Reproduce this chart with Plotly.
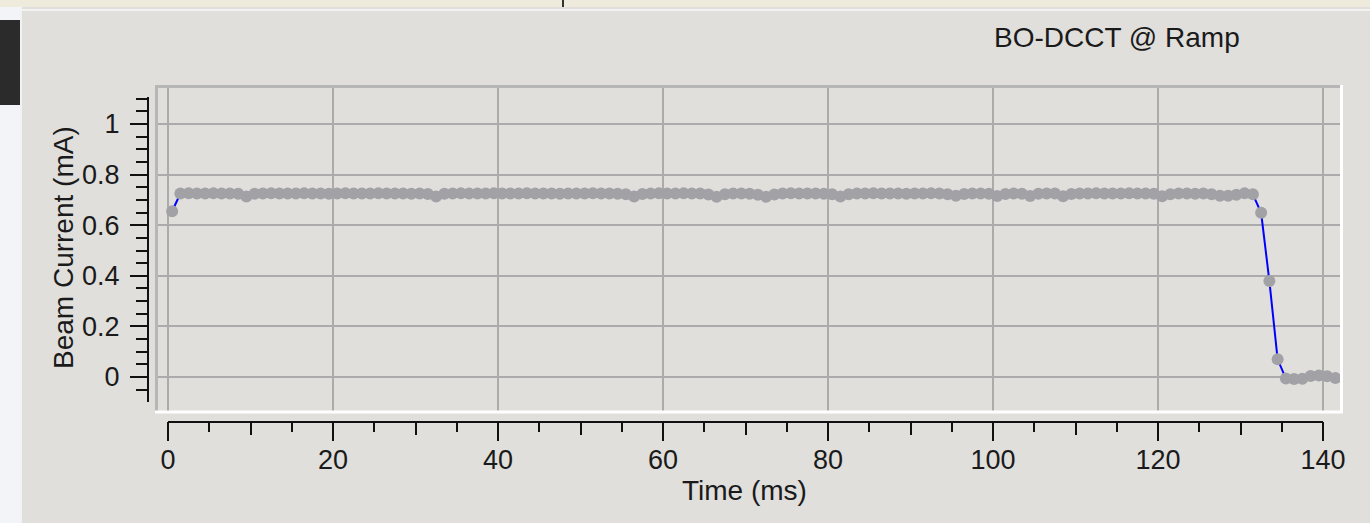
import plotly.graph_objects as go

# ---------------- data ----------------
time_ms = [
    0.5, 1.5, 2.5, 3.5, 4.5, 5.5, 6.5, 7.5, 8.5, 9.5,
    10.5, 11.5, 12.5, 13.5, 14.5, 15.5, 16.5, 17.5, 18.5, 19.5,
    20.5, 21.5, 22.5, 23.5, 24.5, 25.5, 26.5, 27.5, 28.5, 29.5,
    30.5, 31.5, 32.5, 33.5, 34.5, 35.5, 36.5, 37.5, 38.5, 39.5,
    40.5, 41.5, 42.5, 43.5, 44.5, 45.5, 46.5, 47.5, 48.5, 49.5,
    50.5, 51.5, 52.5, 53.5, 54.5, 55.5, 56.5, 57.5, 58.5, 59.5,
    60.5, 61.5, 62.5, 63.5, 64.5, 65.5, 66.5, 67.5, 68.5, 69.5,
    70.5, 71.5, 72.5, 73.5, 74.5, 75.5, 76.5, 77.5, 78.5, 79.5,
    80.5, 81.5, 82.5, 83.5, 84.5, 85.5, 86.5, 87.5, 88.5, 89.5,
    90.5, 91.5, 92.5, 93.5, 94.5, 95.5, 96.5, 97.5, 98.5, 99.5,
    100.5, 101.5, 102.5, 103.5, 104.5, 105.5, 106.5, 107.5, 108.5, 109.5,
    110.5, 111.5, 112.5, 113.5, 114.5, 115.5, 116.5, 117.5, 118.5, 119.5,
    120.5, 121.5, 122.5, 123.5, 124.5, 125.5, 126.5, 127.5, 128.5, 129.5,
    130.5, 131.5, 132.5, 133.5, 134.5, 135.5, 136.5, 137.5, 138.5, 139.5,
    140.5, 141.5,
]
beam_current_mA = [
    0.655, 0.725, 0.726, 0.725, 0.725, 0.726, 0.725, 0.725, 0.724, 0.713,
    0.724, 0.725, 0.726, 0.725, 0.725, 0.725, 0.726, 0.725, 0.725, 0.724,
    0.725, 0.726, 0.725, 0.725, 0.725, 0.726, 0.725, 0.725, 0.725, 0.724,
    0.725, 0.723, 0.713, 0.724, 0.725, 0.726, 0.725, 0.725, 0.725, 0.726,
    0.725, 0.725, 0.725, 0.726, 0.725, 0.725, 0.725, 0.724, 0.725, 0.725,
    0.725, 0.726, 0.725, 0.725, 0.724, 0.722, 0.713, 0.723, 0.725, 0.726,
    0.725, 0.725, 0.726, 0.725, 0.725, 0.721, 0.712, 0.722, 0.725, 0.725,
    0.724, 0.720, 0.712, 0.721, 0.725, 0.726, 0.725, 0.725, 0.725, 0.724,
    0.722, 0.713, 0.722, 0.725, 0.725, 0.726, 0.725, 0.725, 0.725, 0.724,
    0.725, 0.725, 0.726, 0.725, 0.722, 0.716, 0.723, 0.725, 0.725, 0.724,
    0.715, 0.723, 0.725, 0.724, 0.715, 0.724, 0.725, 0.725, 0.714, 0.723,
    0.725, 0.725, 0.726, 0.725, 0.725, 0.725, 0.726, 0.725, 0.725, 0.724,
    0.714, 0.722, 0.725, 0.725, 0.724, 0.725, 0.722, 0.716, 0.716, 0.720,
    0.726, 0.722, 0.649, 0.379, 0.070, -0.006, -0.008, -0.007, 0.004, 0.006,
    0.003, -0.004,
]
x_tick_values = [0, 20, 40, 60, 80, 100, 120, 140]
x_tick_labels = ["0", "20", "40", "60", "80", "100", "120", "140"]
y_tick_values = [0, 0.2, 0.4, 0.6, 0.8, 1.0]
y_tick_labels = ["0", "0.2", "0.4", "0.6", "0.8", "1"]

chart_title = "BO-DCCT @ Ramp"
x_title = "Time (ms)"
y_title = "Beam Current (mA)"

# ---------------- layout geometry (pixels) ----------------
W, H = 1370, 523
def PX(px):
    return px / W
def PY(py):
    return 1 - py / H

# plot frame (inner area)
fx0, fx1, fy0, fy1 = 158, 1340, 88, 411
# axis calibration: x 0 -> 168px, 140 -> 1323px ; y 0 -> 377px, 1 -> 124px
x0_px, x140_px = 168, 1323
xs = (x140_px - x0_px) / 140.0
y0_px, y1_px = 377, 124
ys = (y0_px - y1_px) / 1.0

x_range_data = [(fx0 - x0_px) / xs, (fx1 - x0_px) / xs]
y_range_data = [(y0_px - fy1) / ys, (y0_px - fy0) / ys]

# y tick axis extent
ya_top, ya_bot = 97, 402
y_range_axis = [(y0_px - ya_bot) / ys, (y0_px - ya_top) / ys]
# axis line positions
xaxis_line_py = 421
yaxis_line_px = 149

PANEL = "#e0dfdc"
GRID = "#ababab"
TXT = "#1a1a1a"
AX = "#111111"
FONT = "Liberation Sans, Arial, sans-serif"
FS_TICK = 27
FS_TITLE = 28

fig = go.Figure()

fig.add_trace(go.Scatter(
    x=time_ms, y=beam_current_mA, mode="lines+markers",
    line=dict(color="#0000ff", width=2),
    marker=dict(color="#a2a2a6", size=12, line=dict(width=0)),
    xaxis="x", yaxis="y", showlegend=False, hoverinfo="x+y",
))
# empty traces so that the tick-only axes get their own subplots
fig.add_trace(go.Scatter(x=[], y=[], xaxis="x2", yaxis="y3", showlegend=False, hoverinfo="skip"))
fig.add_trace(go.Scatter(x=[], y=[], xaxis="x4", yaxis="y3", showlegend=False, hoverinfo="skip"))
fig.add_trace(go.Scatter(x=[], y=[], xaxis="x3", yaxis="y2", showlegend=False, hoverinfo="skip"))

hidden = dict(showgrid=False, zeroline=False, showline=False, ticks="",
              showticklabels=False, fixedrange=True)

fig.update_layout(
    width=W, height=H, autosize=False,
    margin=dict(l=0, r=0, t=0, b=0, pad=0, autoexpand=False),
    paper_bgcolor=PANEL, plot_bgcolor="rgba(0,0,0,0)",
    font=dict(family=FONT, size=FS_TICK, color=TXT),
    showlegend=False,
    xaxis=dict(
        domain=[PX(fx0), PX(fx1)], range=x_range_data, anchor="y",
        showgrid=True, gridcolor=GRID, gridwidth=2,
        tickvals=x_tick_values, showticklabels=False, ticks="",
        showline=False, zeroline=False, automargin=False,
    ),
    yaxis=dict(
        domain=[PY(fy1), PY(fy0)], range=y_range_data, anchor="x",
        showgrid=True, gridcolor=GRID, gridwidth=2,
        tickvals=y_tick_values, showticklabels=False, ticks="",
        showline=False, zeroline=False, automargin=False,
    ),
    # x tick axis (major + short minor)
    xaxis2=dict(
        domain=[PX(x0_px), PX(x140_px)], range=[0, 140],
        anchor="y3", side="bottom", automargin=False,
        showgrid=False, zeroline=False,
        showline=True, linecolor=AX, linewidth=2,
        tickvals=x_tick_values, ticktext=x_tick_labels,
        ticks="outside", ticklen=18, tickwidth=2, tickcolor=AX,
        ticklabelstandoff=-4,
        tickfont=dict(family=FONT, size=FS_TICK, color=TXT),
        minor=dict(dtick=5, tick0=0, ticks="outside", ticklen=9,
                   tickwidth=2, tickcolor=AX, showgrid=False),
    ),
    # x medium ticks every 10
    xaxis4=dict(
        domain=[PX(x0_px), PX(x140_px)], range=[0, 140],
        anchor="y3", side="bottom", automargin=False,
        showgrid=False, zeroline=False, showline=False,
        dtick=10, tick0=0, ticks="outside", ticklen=13, tickwidth=2,
        tickcolor=AX, showticklabels=False,
    ),
    # helper y axis whose domain bottom defines the x tick axis position
    yaxis3=dict(domain=[PY(xaxis_line_py), PY(xaxis_line_py - 10)], range=[0, 1],
                anchor="x2", automargin=False, **hidden),
    # y tick axis
    yaxis2=dict(
        domain=[PY(ya_bot), PY(ya_top)], range=y_range_axis,
        anchor="x3", side="left", automargin=False,
        showgrid=False, zeroline=False,
        showline=True, linecolor=AX, linewidth=2,
        tickvals=y_tick_values, ticktext=y_tick_labels,
        ticks="outside", ticklen=17, tickwidth=2, tickcolor=AX,
        ticklabelstandoff=5,
        tickfont=dict(family=FONT, size=FS_TICK, color=TXT),
        minor=dict(dtick=0.05, tick0=0, ticks="outside", ticklen=11,
                   tickwidth=2, tickcolor=AX, showgrid=False),
    ),
    # helper x axis whose domain left defines the y tick axis position
    xaxis3=dict(domain=[PX(yaxis_line_px), PX(yaxis_line_px + 5)], range=[0, 1],
                anchor="y2", automargin=False, **hidden),
)

shapes = []
# surroundings (window edges)
shapes.append(dict(type="rect", xref="paper", yref="paper", x0=0, x1=PX(22), y0=0, y1=1,
                   fillcolor="#f3f4f7", line=dict(width=0), layer="below"))
shapes.append(dict(type="rect", xref="paper", yref="paper", x0=0, x1=PX(22), y0=PY(105), y1=PY(20),
                   fillcolor="#2b2b2b", line=dict(width=0), layer="below"))
shapes.append(dict(type="rect", xref="paper", yref="paper", x0=0, x1=1, y0=PY(7), y1=1,
                   fillcolor="#eeeadc", line=dict(width=0), layer="below"))
shapes.append(dict(type="line", xref="paper", yref="paper", x0=PX(563), x1=PX(563), y0=PY(7), y1=1,
                   line=dict(color="#333333", width=2), layer="below"))
shapes.append(dict(type="rect", xref="paper", yref="paper", x0=PX(21), x1=PX(1380), y0=PY(540), y1=PY(10),
                   fillcolor=PANEL, line=dict(color="#f2f2f2", width=2), layer="below"))
# plot frame: sunken look
shapes.append(dict(type="line", xref="paper", yref="paper", x0=PX(155), x1=PX(1342), y0=PY(86.5), y1=PY(86.5),
                   line=dict(color="#b6b6b6", width=3), layer="above"))
shapes.append(dict(type="line", xref="paper", yref="paper", x0=PX(156.5), x1=PX(156.5), y0=PY(85), y1=PY(413),
                   line=dict(color="#b6b6b6", width=3), layer="above"))
shapes.append(dict(type="line", xref="paper", yref="paper", x0=PX(155), x1=PX(1343), y0=PY(412), y1=PY(412),
                   line=dict(color="#ffffff", width=3), layer="above"))
shapes.append(dict(type="line", xref="paper", yref="paper", x0=PX(1341.5), x1=PX(1341.5), y0=PY(85), y1=PY(413),
                   line=dict(color="#ffffff", width=3), layer="above"))
fig.update_layout(shapes=shapes)

fig.update_layout(annotations=[
    dict(text=chart_title, xref="paper", yref="paper", x=PX(1117), y=PY(37),
         xanchor="center", yanchor="middle", showarrow=False,
         font=dict(family=FONT, size=FS_TITLE, color=TXT)),
    dict(text=x_title, xref="paper", yref="paper", x=PX(745), y=PY(490),
         xanchor="center", yanchor="middle", showarrow=False,
         font=dict(family=FONT, size=FS_TITLE, color=TXT)),
    dict(text=y_title, xref="paper", yref="paper", x=PX(63), y=PY(247),
         xanchor="center", yanchor="middle", showarrow=False, textangle=-90,
         font=dict(family=FONT, size=FS_TITLE, color=TXT)),
])

fig.write_html("out.html")
